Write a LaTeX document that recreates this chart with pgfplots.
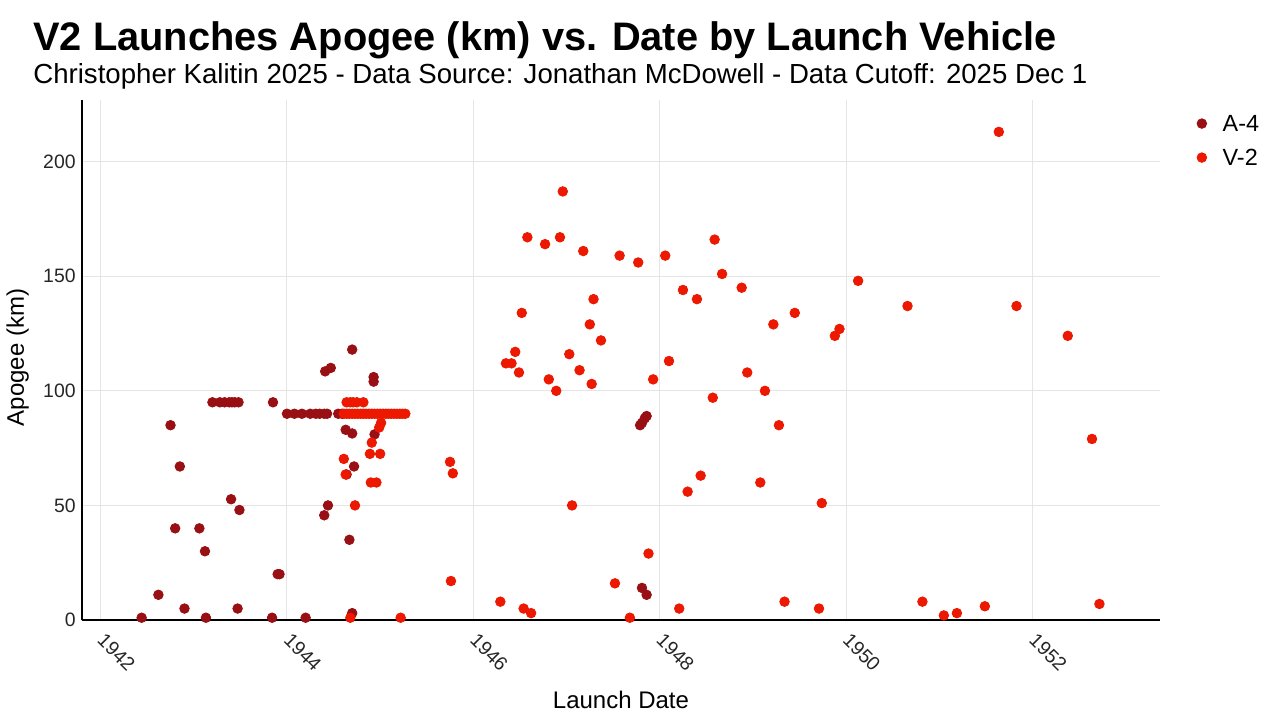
\documentclass[border=0pt]{standalone}
\usepackage{pgfplots}
\pgfplotsset{compat=1.18}
\usepackage{pgfplotstable}
\usepackage{fontspec}
\setmainfont{Liberation Sans}
\definecolor{afour}{RGB}{153,16,20}
\definecolor{vtwo}{RGB}{236,24,0}
\definecolor{gridc}{RGB}{229,229,229}

\pgfplotstableread{
x y
1942.44 1
1942.62 11
1942.75 85
1942.80 40
1942.85 67
1942.90 5
1943.06 40
1943.12 30
1943.13 1
1943.20 95
1943.28 95
1943.33 95
1943.38 95
1943.41 95
1943.44 95
1943.48 95
1943.40 52.7
1943.49 48
1943.47 5
1943.85 95
1943.84 1
1943.90 20
1943.92 20
1944.00 90
1944.08 90
1944.16 90
1944.25 90
1944.31 90
1944.35 90
1944.40 90
1944.43 90
1944.20 1
1944.41 108.5
1944.47 110
1944.40 45.7
1944.44 50
1944.70 118
1944.55 90
1944.59 90
1944.63 83
1944.70 81.4
1944.72 67
1944.64 63.5
1944.67 35
1944.70 3
1944.93 106
1944.93 104
1944.94 81
1947.79 85
1947.81 86
1947.84 88
1947.86 89
1947.81 14
1947.86 11
}\afourdata

\pgfplotstableread{
x y
1944.64 95
1944.68 95
1944.71 95
1944.75 95
1944.82 95
1944.61 90
1944.64 90
1944.67 90
1944.70 90
1944.73 90
1944.76 90
1944.79 90
1944.82 90
1944.85 90
1944.88 90
1944.91 90
1944.94 90
1944.97 90
1945.00 90
1945.03 90
1945.06 90
1945.09 90
1945.12 90
1945.15 90
1945.18 90
1945.21 90
1945.24 90
1945.27 90
1945.01 86
1944.99 84
1944.91 77.4
1944.89 72.5
1945.00 72.5
1944.61 70.3
1944.63 63.5
1944.90 60
1944.96 60
1944.73 50
1944.68 1
1945.22 1
1945.75 69
1945.78 64
1945.76 17
1946.29 8
1946.35 112
1946.41 112
1946.45 117
1946.49 108
1946.52 134
1946.54 5
1946.58 167
1946.62 3
1946.77 164
1946.81 105
1946.89 100
1946.93 167
1946.96 187
1947.03 116
1947.06 50
1947.14 109
1947.18 161
1947.25 129
1947.27 103
1947.29 140
1947.37 122
1947.52 16
1947.57 159
1947.68 1
1947.77 156
1947.88 29
1947.93 105
1948.06 159
1948.10 113
1948.21 5
1948.25 144
1948.30 56
1948.40 140
1948.44 63
1948.57 97
1948.59 166
1948.67 151
1948.88 145
1948.94 108
1949.08 60
1949.13 100
1949.22 129
1949.28 85
1949.34 8
1949.45 134
1949.71 5
1949.74 51
1949.88 124
1949.93 127
1950.13 148
1950.66 137
1950.82 8
1951.05 2
1951.19 3
1951.49 6
1951.64 213
1951.83 137
1952.38 124
1952.64 79
1952.72 7
}\vtwodata

\begin{document}
\begin{tikzpicture}
\useasboundingbox (0,0) rectangle (640pt,360pt);
\node[anchor=base west, inner sep=0pt, font=\fontsize{19.9}{22}\selectfont\bfseries] at (16.5pt,335pt) {V2 Launches Apogee (km) vs. Date by Launch Vehicle};
\node[anchor=base west, inner sep=0pt, font=\fontsize{13.8}{15}\selectfont] at (16.5pt,318.5pt) {Christopher Kalitin 2025 - Data Source: Jonathan McDowell - Data Cutoff: 2025 Dec 1};
\begin{axis}[
  at={(41pt,50pt)}, anchor=south west,
  scale only axis, width=539pt, height=260pt,
  xmin=1941.8, xmax=1953.37, ymin=0, ymax=226.9,
  axis lines=left, axis line style={black, line width=0.6pt, -},
  xtick={1942,1944,...,1952}, ytick={0,50,100,150,200},
  xticklabels={1942,1944,1946,1948,1950,1952},
  major tick length=0pt,
  grid=major, major grid style={gridc, line width=0.5pt},
  /pgf/number format/assume math mode=true,
  ticklabel style={font=\fontsize{9.7}{11}\selectfont, text=black!85},
  xticklabel style={xshift=2.7pt, yshift=-5.8pt, rotate=-45, anchor=north west, inner sep=0pt},
  yticklabel style={inner sep=0pt, xshift=-3pt},
  xlabel={Launch Date}, ylabel={Apogee (km)},
  label style={font=\fontsize{12}{14}\selectfont},
  xlabel style={at={(axis description cs:0.5,0)}, anchor=base, yshift=-44pt},
  ylabel style={anchor=base, rotate=0},
  every axis y label/.append style={at={(axis description cs:-0.054,0.505)}},
  legend style={at={(1.034,0.972)}, anchor=north west, draw=none, fill=none,
    font=\fontsize{11.7}{13}\selectfont, row sep=6.2pt, inner sep=0pt,
    nodes={inner sep=0pt, text height=8.5pt, text depth=2.3pt}},
  legend cell align=left,
  legend image code/.code={\draw[#1] plot coordinates {(0pt,1.1pt)};},
  clip=false,
]
\addplot[only marks, mark=*, mark size=2.4pt, color=afour, mark options={fill=afour, draw=afour}] table[x=x,y=y] {\afourdata};
\addlegendentry{\hspace{8pt}A-4}
\addplot[only marks, mark=*, mark size=2.4pt, color=vtwo, mark options={fill=vtwo, draw=vtwo}] table[x=x,y=y] {\vtwodata};
\addlegendentry{\hspace{8pt}V-2}
\end{axis}
\end{tikzpicture}
\end{document}
